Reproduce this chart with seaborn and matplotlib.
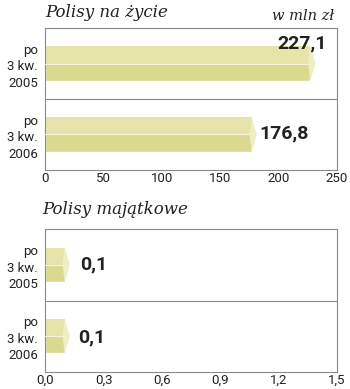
import matplotlib
matplotlib.use("Agg")
import matplotlib.pyplot as plt
import seaborn as sns
import pandas as pd
from matplotlib.patches import Polygon, Rectangle

categories = ["po\n3 kw.\n2005", "po\n3 kw.\n2006"]
life_values = [227.1, 176.8]
life_labels = ["227,1", "176,8"]
prop_values = [0.1, 0.1]
prop_labels = ["0,1", "0,1"]
life_ticks = [0, 50, 100, 150, 200, 250]
life_ticklabels = ["0", "50", "100", "150", "200", "250"]
prop_ticks = [0.0, 0.3, 0.6, 0.9, 1.2, 1.5]
prop_ticklabels = ["0,0", "0,3", "0,6", "0,9", "1,2", "1,5"]

sns.set_theme(style="white")
plt.rcParams["font.family"] = ["Roboto", "DejaVu Sans"]

BAR = "#dbd88f"
TOP = "#e6e4a8"
LIGHT = "#eeedc4"
EDGE = "#8a8a8a"

fig = plt.figure(figsize=(3.5, 3.89), dpi=100)
ax1 = fig.add_axes([0.129, 0.563, 0.834, 0.365])
ax2 = fig.add_axes([0.129, 0.044, 0.834, 0.367])


def draw(ax, values, labels, ticks, ticklabels, xmax, label_specs):
    df = pd.DataFrame({"cat": categories, "val": values})
    sns.barplot(data=df, y="cat", x="val", orient="h", color=BAR,
                saturation=1, width=0.48, ax=ax)
    cap = (ticks[-1] - ticks[0]) * 0.018
    for p in list(ax.patches):
        x0, y0 = p.get_x(), p.get_y()
        w, h = p.get_width(), p.get_height()
        yc = y0 + h / 2
        ax.add_patch(Rectangle((x0, y0), w, h / 2, facecolor=TOP,
                               edgecolor="none", zorder=2.5))
        ax.add_patch(Polygon([[x0 + w, y0], [x0 + w + cap, yc], [x0 + w, y0 + h],
                              [x0 + w - cap * 0.4, yc]], closed=True,
                             facecolor=LIGHT, edgecolor="none", zorder=3))
        ax.plot([x0, x0 + w - cap * 0.4], [yc, yc], color="#f6f5dc", lw=0.8, zorder=3)
    ax.set_xlim(ticks[0], xmax)
    ax.set_ylim(1.5, -0.5)
    ax.set_xticks(ticks)
    ax.set_xticklabels(ticklabels, fontsize=9.5, color="#222222")
    ax.set_ylabel("")
    ax.set_xlabel("")
    ax.tick_params(axis="y", length=0, pad=5)
    ax.tick_params(axis="x", length=0, pad=1.5)
    for t in ax.get_yticklabels():
        t.set_fontsize(9.5)
        t.set_color("#222222")
        t.set_horizontalalignment("right")
        t.set_multialignment("right")
        t.set_linespacing(1.35)
    for s in ax.spines.values():
        s.set_color(EDGE)
        s.set_linewidth(0.8)
    ax.axhline(0.5, color=EDGE, lw=0.8)
    for (x, y, ha), lab in zip(label_specs, labels):
        ax.text(x, y, lab, ha=ha, va="center", fontsize=14,
                fontweight="bold", color="#222222")


draw(ax1, life_values, life_labels, life_ticks, life_ticklabels, 250,
     [(life_values[0] + 14, -0.28, "right"), (life_values[1] + 7, 0.98, "left")])
draw(ax2, prop_values, prop_labels, prop_ticks, prop_ticklabels, 1.5,
     [(prop_values[0] + 0.08, 0.0, "left"), (prop_values[1] + 0.07, 1.02, "left")])

fig.text(0.129, 0.968, "Polisy na życie", fontsize=12, style="italic",
         family="DejaVu Serif", ha="left", va="center", color="#222222")
fig.text(0.955, 0.96, "w mln zł", fontsize=10.5, style="italic",
         family="DejaVu Serif", ha="right", va="center", color="#222222")
fig.text(0.12, 0.462, "Polisy majątkowe", fontsize=12, style="italic",
         family="DejaVu Serif", ha="left", va="center", color="#222222")

fig.savefig("out.png", dpi=100, facecolor="white")
